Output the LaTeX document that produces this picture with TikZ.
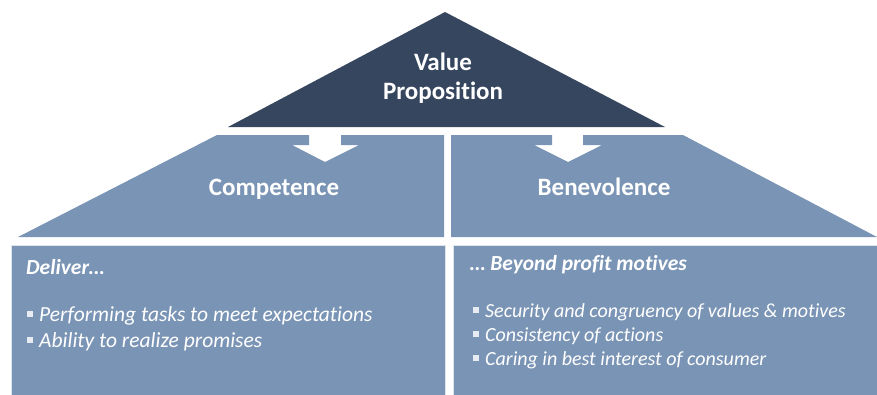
\documentclass[tikz,border=0pt]{standalone}
\usepackage{fontspec}
\setmainfont{Carlito}[Ligatures=NoCommon]
\usetikzlibrary{positioning}

\definecolor{navy}{HTML}{36465F}
\definecolor{slate}{HTML}{7A94B5}
\definecolor{tick}{HTML}{E8ECF2}

% small square bullet in front of each item
\newcommand\sqmark{\textcolor{tick}{\rule[4pt]{6pt}{6pt}}\hspace{6pt}}

\begin{document}
\begin{tikzpicture}[x=1pt,y=-1pt,
    panel/.style={fill=slate,draw=white!75!slate,line width=0.6pt},
    head/.style={text=white,font=\fontsize{25}{29}\selectfont\bfseries,anchor=base,inner sep=0pt},
    lead/.style={text=white,font=\fontsize{21.5}{24}\selectfont\bfseries\itshape,anchor=base west,inner sep=0pt},
    item/.style={text=white,font=\fontsize{20}{24}\selectfont\itshape,anchor=base west,inner sep=0pt},
    bigitem/.style={item,font=\fontsize{21.5}{24}\selectfont\itshape}]

  % Define dimensions (picture is laid out in pixels of the 877x394 frame)
  \def\roof{127}    % bottom of the top triangle
  \def\ctop{135}    % top of the two middle panels
  \def\cbot{237}    % bottom of the two middle panels
  \def\btop{245}    % top of the two text boxes

  \useasboundingbox (0,0) rectangle (877,394);

  % Top triangle
  \fill [navy] (445,12) -- (665,\roof) -- (228,\roof) -- cycle;
  \node [head] (value) at (443,70) {Value};
  \node [head] (proposition) at (443,99) {Proposition};

  % Left middle panel, with the white arrow cut out of its top
  \fill [slate] (217,\ctop) -- (309,\ctop) -- (309,145) -- (292,145) -- (325,162)
    -- (359,145) -- (341,145) -- (341,\ctop) -- (444,\ctop) -- (444,\cbot) -- (18,\cbot) -- cycle;
  \node [head] (competence) at (274,195) {Competence};

  % Right middle panel
  \fill [slate] (451,\ctop) -- (552,\ctop) -- (552,145) -- (534,145) -- (568,162)
    -- (602,145) -- (583,145) -- (583,\ctop) -- (683,\ctop) -- (877,\cbot) -- (451,\cbot) -- cycle;
  \node [head] (benevolence) at (604,195) {Benevolence};

  % Bottom text boxes
  \draw [panel] (11,\btop) rectangle (445,400);
  \draw [panel] (453,\btop) rectangle (882,400);

  % Left box text
  \node [lead] (deliver) at (26,274) {Deliver…};
  \node [bigitem] (tasks) at (27,321) {\sqmark Performing tasks to meet expectations};
  \node [bigitem] (promises) at (27,347) {\sqmark Ability to realize promises};

  % Right box text
  \node [lead] (beyond) at (470,270) {… Beyond profit motives};
  \node [item] (security) at (473,317) {\sqmark Security and congruency of values \& motives};
  \node [item] (consistency) at (473,341) {\sqmark Consistency of actions};
  \node [item] (caring) at (473,365) {\sqmark Caring in best interest of consumer};

\end{tikzpicture}
\end{document}
